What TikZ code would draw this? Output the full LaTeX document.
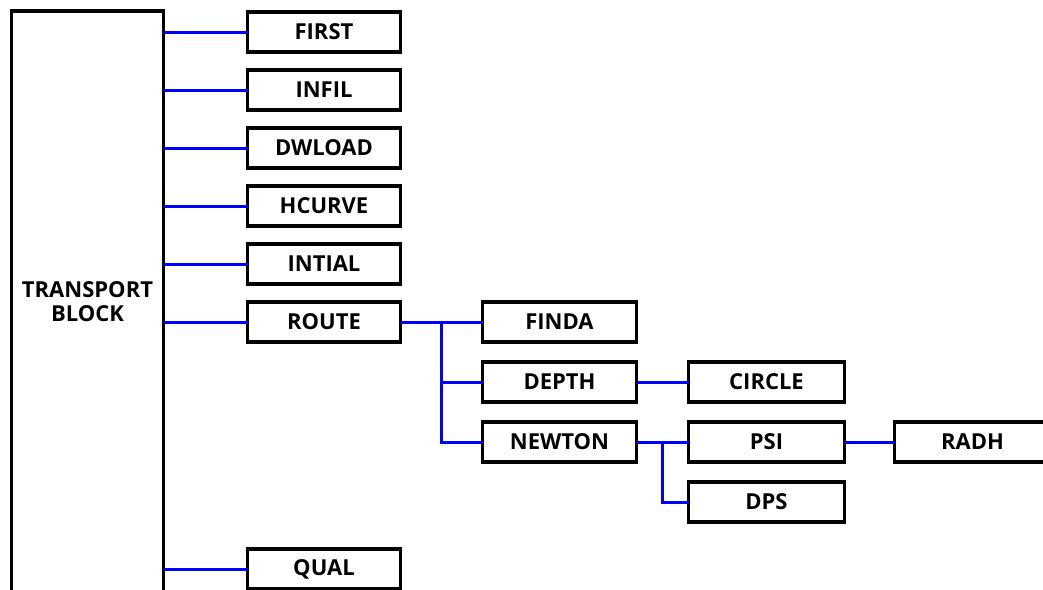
\documentclass[tikz,border=0pt]{standalone}
\usepackage{fontspec}
\setmainfont{Open Sans}
\usetikzlibrary{positioning,calc,shadows}

\tikzset{
  blk/.style={draw,line width=3.6pt,fill=white,inner sep=0pt,align=center,
    minimum width=153pt,minimum height=40pt,outer sep=0pt,
    font=\bfseries\fontsize{22}{24}\selectfont,
    drop shadow={shadow xshift=.8pt,shadow yshift=-.8pt,opacity=.25}},
  link/.style={draw=blue,line width=3pt}
}

\begin{document}
\begin{tikzpicture}[x=1pt,y=-1pt,node distance=18pt]
  \clip (0,0) rectangle (1043,589);
  \node[blk,minimum width=152pt,minimum height=582pt] (tb) at (87.5,302) {TRANSPORT\\BLOCK};
  % first column
  \node[blk] (first) at (324,32) {FIRST};
  \node[blk,below=of first] (infil) {INFIL};
  \node[blk,below=of infil] (dwload) {DWLOAD};
  \node[blk,below=of dwload] (hcurve) {HCURVE};
  \node[blk,below=of hcurve] (intial) {INTIAL};
  \node[blk,below=of intial] (route) {ROUTE};
  \node[blk] (qual) at (324,569) {QUAL};
  % subroutines of ROUTE
  \node[blk,right=82pt of route,minimum width=154pt] (finda) {FINDA};
  \node[blk,below=20pt of finda,minimum width=154pt] (depth) {DEPTH};
  \node[blk,below=20pt of depth,minimum width=154pt] (newton) {NEWTON};
  \node[blk,right=52pt of depth,minimum width=156pt] (circle) {CIRCLE};
  \node[blk,right=52pt of newton,minimum width=156pt] (psi) {PSI};
  \node[blk,below=20pt of psi,minimum width=156pt] (dps) {DPS};
  \node[blk,right=50pt of psi,minimum width=156pt] (radh) {RADH};

  \foreach \n in {first,infil,dwload,hcurve,intial,route,qual}
    \draw[link] (tb.east |- \n.west) -- (\n.west);
  \coordinate (rsplit) at ($(route.east)!.5!(finda.west)$);
  \coordinate (nsplit) at ($(newton.east)!.5!(psi.west)$);
  \draw[link] (route.east) -- (finda.west);
  \draw[link] (rsplit) |- (depth.west) (rsplit) |- (newton.west);
  \draw[link] (depth.east) -- (circle.west);
  \draw[link] (newton.east) -- (psi.west);
  \draw[link] (nsplit) |- (dps.west);
  \draw[link] (psi.east) -- (radh.west);
\end{tikzpicture}
\end{document}
